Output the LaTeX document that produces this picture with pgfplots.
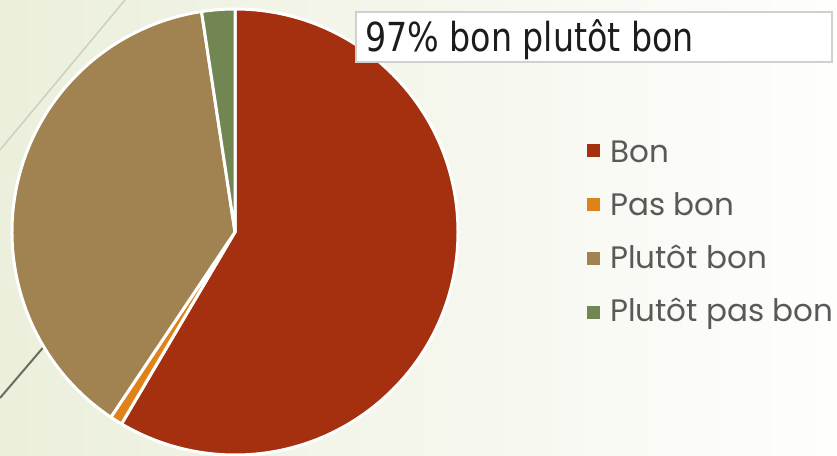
\documentclass[border=0pt]{standalone}
\usepackage{pgfplots}
\pgfplotsset{compat=1.18}
\usepackage{fontspec}
\newfontfamily\legfont{Poppins}
\newfontfamily\titfont{DejaVu Sans Condensed}
\definecolor{cBon}{HTML}{A5300F}
\definecolor{cPas}{HTML}{E0821A}
\definecolor{cPlb}{HTML}{A08350}
\definecolor{cPpb}{HTML}{728653}
\definecolor{txt}{HTML}{595959}
\definecolor{bgL}{HTML}{EBEFDB}
\definecolor{bgM}{HTML}{F7F8F1}
\definecolor{bgR}{HTML}{FEFEFD}
\definecolor{decoA}{HTML}{CDD0BF}
\definecolor{decoB}{HTML}{6E6B5C}
\definecolor{boxc}{HTML}{D0D0D0}
\definecolor{titc}{HTML}{1C1C1C}
% slice values (percent), clockwise from 12 o'clock
\def\vBon{58.5}
\def\vPas{0.9}
\def\vPlb{38.2}
\def\vPpb{2.4}
\pgfmathsetmacro\aA{90}
\pgfmathsetmacro\aB{\aA-3.6*\vBon}
\pgfmathsetmacro\aC{\aB-3.6*\vPas}
\pgfmathsetmacro\aD{\aC-3.6*\vPlb}
\pgfmathsetmacro\aE{\aD-3.6*\vPpb}
\begin{document}%
\begin{tikzpicture}
\begin{axis}[width=837bp,height=456bp,scale only axis,
  xmin=0,xmax=837,ymin=0,ymax=456,hide axis,clip=true]
% background
\fill[left color=bgL,middle color=bgM,right color=bgR] (axis cs:0,0) rectangle (axis cs:837,456);
\draw[decoA,line width=1.5bp] (axis cs:125,456) -- (axis cs:0,306);
\draw[decoB,line width=2bp] (axis cs:70,140) -- (axis cs:0,58);
% pie
\fill[cBon,draw=white,line width=3bp,line join=round] (axis cs:235,224) -- ++(\aA:223bp) arc[start angle=\aA,end angle=\aB,radius=223bp] -- cycle;
\fill[cPas,draw=white,line width=3bp,line join=round] (axis cs:235,224) -- ++(\aB:223bp) arc[start angle=\aB,end angle=\aC,radius=223bp] -- cycle;
\fill[cPlb,draw=white,line width=3bp,line join=round] (axis cs:235,224) -- ++(\aC:223bp) arc[start angle=\aC,end angle=\aD,radius=223bp] -- cycle;
\fill[cPpb,draw=white,line width=3bp,line join=round] (axis cs:235,224) -- ++(\aD:223bp) arc[start angle=\aD,end angle=\aE,radius=223bp] -- cycle;
% title box
\draw[fill=white,draw=boxc,line width=2bp] (axis cs:356,394) rectangle (axis cs:832,444);
\node[anchor=base west,inner sep=0,text=titc,font=\titfont\fontsize{37bp}{44bp}\selectfont] at (axis cs:365,404) {\scalebox{1}[1.08]{97\% bon plutôt bon}};
% legend
\fill[cBon] (axis cs:587,298.5) rectangle (axis cs:600,311.5);
\fill[cPas] (axis cs:587,245) rectangle (axis cs:600,258);
\fill[cPlb] (axis cs:587,191) rectangle (axis cs:600,204);
\fill[cPpb] (axis cs:587,137) rectangle (axis cs:600,150);
\node[anchor=base west,inner sep=0,text=txt,font=\legfont\fontsize{31bp}{36bp}\selectfont] at (axis cs:610,293) {Bon};
\node[anchor=base west,inner sep=0,text=txt,font=\legfont\fontsize{31bp}{36bp}\selectfont] at (axis cs:610,240) {Pas bon};
\node[anchor=base west,inner sep=0,text=txt,font=\legfont\fontsize{31bp}{36bp}\selectfont] at (axis cs:610,187) {Plutôt bon};
\node[anchor=base west,inner sep=0,text=txt,font=\legfont\fontsize{31bp}{36bp}\selectfont] at (axis cs:610,134) {Plutôt pas bon};
\end{axis}
\pgfresetboundingbox
\useasboundingbox (current axis.south west) rectangle (current axis.north east);
\end{tikzpicture}%
\end{document}
